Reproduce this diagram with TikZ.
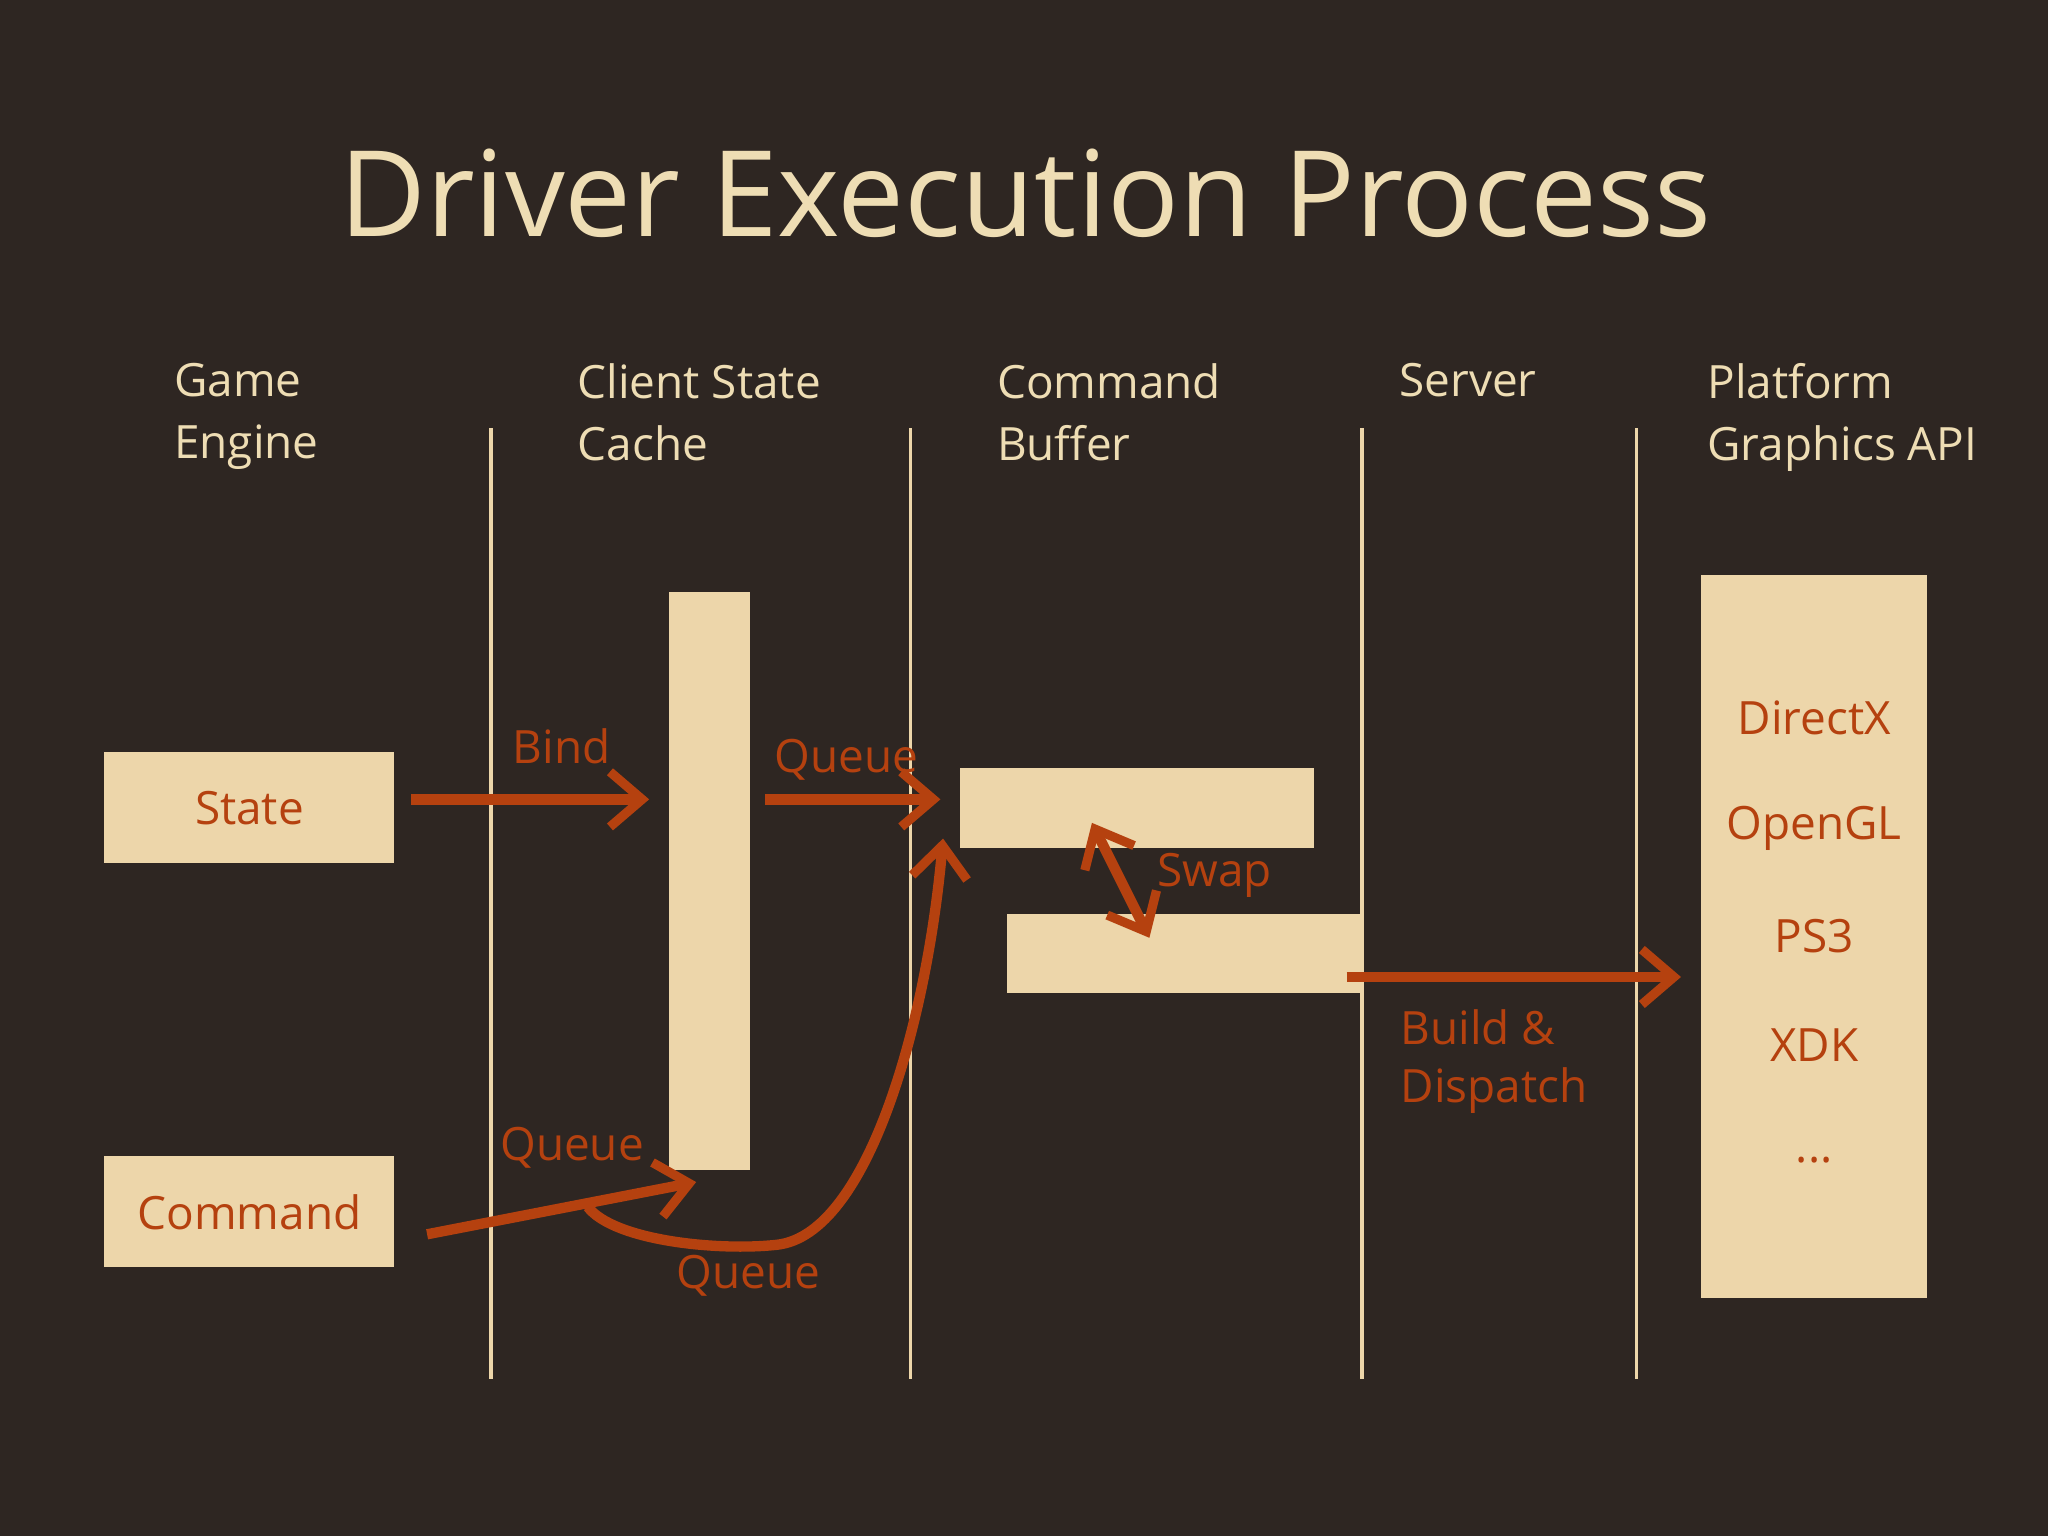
\documentclass[tikz,border=0pt]{standalone}
\usepackage{fontspec}
\setmainfont{Open Sans}
\usetikzlibrary{arrows.meta}
\definecolor{bg}{HTML}{2E2622}
\definecolor{beige}{HTML}{EDD6AA}
\definecolor{title}{HTML}{EEDDB4}
\definecolor{orng}{HTML}{B5410F}
\begin{document}
\begin{tikzpicture}[x=0.02cm,y=-0.02cm,
  box/.style={fill=beige,draw=none},
  hdr/.style={text=title,font=\fontsize{20}{27}\selectfont,align=left,anchor=north west,inner sep=0},
  lbl/.style={text=orng,font=\fontsize{20}{25}\selectfont,inner sep=0},
  arr/.style={draw=orng,line width=4.5pt,-{Straight Barb[length=14pt,width=24pt,line width=4pt]}},
  vline/.style={draw=beige,line width=1.6pt}]
\fill[bg] (0,0) rectangle (1568,1176);
\useasboundingbox (0,0) rectangle (1568,1176);
\node[text=title,font=\fontsize{52}{60}\selectfont] (title) at (785,148) {Driver Execution Process};
\node[hdr] (h1) at (133,278) {Game\\Engine};
\node[hdr] (h2) at (442,278) {Client State\\Cache};
\node[hdr] (h3) at (763,278) {Command\\Buffer};
\node[hdr] (h4) at (1071,278) {Server};
\node[hdr] (h5) at (1307,278) {Platform\\Graphics API};
\foreach \x in {376,697,1043,1253} \draw[vline] (\x,328) -- (\x,1056);
\fill[box] (80,576) rectangle (302,661);
\node[lbl] (state) at (191,619) {State};
\fill[box] (80,885) rectangle (302,970);
\node[lbl] (cmd) at (191,928) {Command};
\fill[box] (512,453) rectangle (574,896);
\fill[box] (735,588) rectangle (1006,649);
\fill[box] (771,700) rectangle (1043,760);
\fill[box] (1302,440) rectangle (1475,994);
\node[lbl] (dx) at (1389,550) {DirectX};
\node[lbl] (gl) at (1389,634) {OpenGL};
\node[lbl] (ps) at (1389,717) {PS3};
\node[lbl] (xdk) at (1389,800) {XDK};
\node[lbl] (dots) at (1389,888) {...};
\coordinate (b1) at (315,612); \coordinate (b2) at (497,612);
\coordinate (q1) at (586,612); \coordinate (q2) at (720,612);
\coordinate (c1) at (327,945); \coordinate (c2) at (533,905);
\coordinate (cs) at (450,924); \coordinate (cm) at (595,953); \coordinate (ce) at (722,642);
\coordinate (s1) at (836,630); \coordinate (s2) at (880,718);
\coordinate (d1) at (1031,748); \coordinate (d2) at (1287,748);
\draw[arr] (b1) -- (b2);
\draw[arr] (q1) -- (q2);
\draw[arr] (c1) -- (c2);
\draw[arr] (cs) .. controls (470,950) and (550,958) .. (cm) .. controls (665,945) and (710,780) .. (ce);
\draw[arr,{Straight Barb[length=14pt,width=24pt,line width=4pt]}-{Straight Barb[length=14pt,width=24pt,line width=4pt]}] (s1) -- (s2);
\draw[arr] (d1) -- (d2);
\node[lbl] (lb) at (430,571) {Bind};
\node[lbl] (lq1) at (648,582) {Queue};
\node[lbl] (lq2) at (438,879) {Queue};
\node[lbl] (lq3) at (573,977) {Queue};
\node[lbl] (ls) at (930,670) {Swap};
\node[lbl,align=left,anchor=north west] (ld) at (1072,773) {Build \&\\Dispatch};
\end{tikzpicture}
\end{document}
